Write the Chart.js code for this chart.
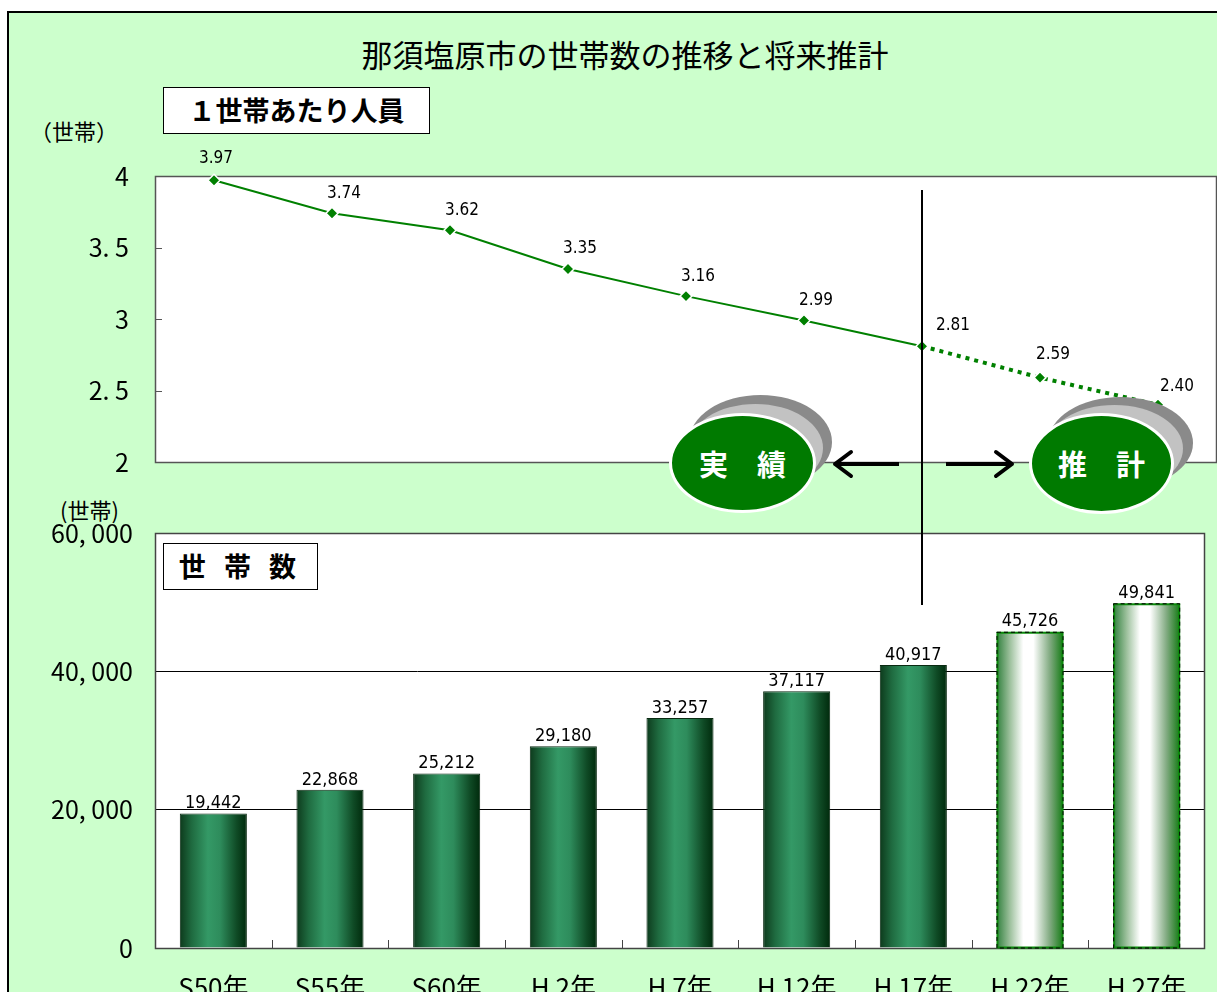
<!DOCTYPE html>
<html lang="ja">
<head>
<meta charset="utf-8">
<title>那須塩原市の世帯数の推移と将来推計</title>
<script src="https://cdn.jsdelivr.net/npm/chart.js@4.4.1/dist/chart.umd.min.js"></script>
<style>
  html, body { margin: 0; padding: 0; background: #fff; overflow: hidden; }
  body { width: 1217px; height: 992px; position: relative; font-family: "Noto Sans CJK JP", sans-serif; }
  #frame { position: absolute; left: 7px; top: 11px; width: 1240px; height: 1010px;
           border: 2px solid #000; background: #ccffcc; }
  canvas { position: absolute; left: 0; }
  #topChart { top: 150px; }
  #barChart { top: 480px; }
  .title { position: absolute; left: 0; width: 1250px; top: 37px; text-align: center;
           font-size: 31px; line-height: 34px; color: #000; }
  .tag { position: absolute; background: #fff; border: 1px solid #000; box-sizing: border-box;
         font-weight: bold; font-size: 27px; text-align: center; color: #000; }
  .unit { position: absolute; font-size: 22px; line-height: 24px; color: #000; }
  .disc { position: absolute; border-radius: 50%; box-sizing: border-box; }
  .disc.dark { background: #8a8a8a; }
  .disc.light { background: #c2c2c2; }
  .disc.face { background: #007a00; border: 3px solid #fff; color: #fff; font-weight: bold;
               font-size: 29px; text-align: center; white-space: nowrap; }
  svg { position: absolute; left: 0; top: 0; }
</style>
</head>
<body>
<div id="frame"></div>
<div class="title">那須塩原市の世帯数の推移と将来推計</div>
<div class="unit" style="left:30px; top:118px;">（世帯）</div>
<div class="unit" style="left:60px; top:497px;">(世帯)</div>

<canvas id="topChart" width="1217" height="330"></canvas>
<canvas id="barChart" width="1217" height="512"></canvas>

<div class="tag" style="left:163px; top:87px; width:267px; height:47px; line-height:44px;">１世帯あたり人員</div>
<div class="tag" style="left:163px; top:543px; width:155px; height:47px; line-height:44px; letter-spacing:6px;">世 帯 数</div>

<!-- 実績 / 推計 の目印 -->
<div class="disc dark"  style="left:689px; top:395px; width:143px; height:94px;"></div>
<div class="disc light" style="left:688px; top:404px; width:135px; height:88px;"></div>
<div class="disc face"  style="left:669px; top:413px; width:147px; height:100px; line-height:94px;">実　績</div>

<div class="disc dark"  style="left:1048px; top:397px; width:145px; height:92px;"></div>
<div class="disc light" style="left:1046px; top:405px; width:137px; height:87px;"></div>
<div class="disc face"  style="left:1029px; top:413px; width:145px; height:101px; line-height:95px;">推　計</div>

<svg width="1217" height="992">
  <line x1="922" y1="190" x2="922" y2="605" stroke="#000" stroke-width="2"/>
  <line x1="899" y1="464" x2="836" y2="464" stroke="#000" stroke-width="4"/>
  <polyline points="851,452 835,464 851,476" fill="none" stroke="#000" stroke-width="4" stroke-linecap="round" stroke-linejoin="round"/>
  <line x1="946" y1="464" x2="1010" y2="464" stroke="#000" stroke-width="4"/>
  <polyline points="996,452 1012,464 996,476" fill="none" stroke="#000" stroke-width="4" stroke-linecap="round" stroke-linejoin="round"/>
</svg>

<script>
// 年次（実績は H17 まで、H22・H27 は推計）
const years = ['S50年', 'S55年', 'S60年', 'H 2年', 'H 7年', 'H 12年', 'H 17年', 'H 22年', 'H 27年'];
const actualCount = 7;

// 1世帯あたり人員
const perHousehold = [3.97, 3.74, 3.62, 3.35, 3.16, 2.99, 2.81, 2.59, 2.40];

// 世帯数
const households = [19442, 22868, 25212, 29180, 33257, 37117, 40917, 45726, 49841];

// 目盛りラベル
const perHouseholdTicks = ['2', '2. 5', '3', '3. 5', '4'];
const householdTicks = ['0', '20, 000', '40, 000', '60, 000'];

const GREEN = '#008000';
const tickFont = { family: '"Liberation Sans Narrow", "Noto Sans CJK JP", sans-serif', size: 25 };
const valueFont = '17px "DejaVu Sans Condensed", "Liberation Sans Narrow", sans-serif';

// 白いプロット枠と内向きの目盛り線
const panelPlugin = {
  id: 'panel',
  beforeDraw(chart) {
    const { ctx, chartArea: a } = chart;
    ctx.save();
    ctx.fillStyle = '#fff';
    ctx.fillRect(a.left, a.top, a.right - a.left, a.bottom - a.top);
    ctx.restore();
  },
  beforeDatasetsDraw(chart, args, opts) {
    const { ctx, chartArea: a } = chart;
    ctx.save();
    ctx.strokeStyle = opts.color || '#444';
    ctx.lineWidth = 1.5;
    ctx.strokeRect(a.left + 0.5, a.top + 0.5, a.right - a.left - 1, a.bottom - a.top);
    ctx.lineWidth = 1;
    if (opts.yTicks) {
      const y = chart.scales.y;
      y.ticks.forEach((t, i) => {
        const py = Math.round(y.getPixelForTick(i)) + 0.5;
        ctx.beginPath();
        ctx.moveTo(a.left, py);
        ctx.lineTo(a.left + 7, py);
        ctx.stroke();
      });
    }
    if (opts.xTicks) {
      const x = chart.scales.x;
      for (let i = 1; i < years.length; i++) {
        const px = Math.round((x.getPixelForTick(i - 1) + x.getPixelForTick(i)) / 2) + 0.5;
        ctx.beginPath();
        ctx.moveTo(px, a.bottom);
        ctx.lineTo(px, a.bottom - 8);
        ctx.stroke();
      }
    }
    ctx.restore();
  }
};

// 折れ線の値ラベル（点からのずらし量）
const lineLabelShift = { 0: [2, -22], 6: [31, -21], 7: [13, -23], 8: [19, -18] };

const lineLabels = {
  id: 'lineLabels',
  afterDatasetsDraw(chart) {
    const { ctx } = chart;
    const pts = chart.getDatasetMeta(0).data;
    ctx.save();
    ctx.font = valueFont;
    ctx.fillStyle = '#000';
    ctx.textAlign = 'center';
    ctx.textBaseline = 'middle';
    pts.forEach((p, i) => {
      const [dx, dy] = lineLabelShift[i] || [12, -20];
      ctx.fillText(perHousehold[i].toFixed(2), p.x + dx, p.y + dy);
    });
    ctx.restore();
  }
};

new Chart(document.getElementById('topChart'), {
  type: 'line',
  data: {
    labels: years,
    datasets: [{
      data: perHousehold,
      borderColor: GREEN,
      borderWidth: 2,
      pointStyle: 'rectRot',
      pointRadius: 6,
      pointBackgroundColor: GREEN,
      pointBorderColor: '#fff',
      pointBorderWidth: 1.5,
      tension: 0,
      clip: false,
      segment: {
        borderDash: c => c.p0DataIndex >= actualCount - 1 ? [4, 5] : undefined,
        borderWidth: c => c.p0DataIndex >= actualCount - 1 ? 4 : 2,
      },
    }],
  },
  options: {
    responsive: false,
    animation: false,
    layout: { autoPadding: false, padding: { top: 26, bottom: 18, left: 0, right: 0 } },
    plugins: {
      legend: { display: false },
      tooltip: { enabled: false },
      panel: { yTicks: true, color: '#555' },
    },
    scales: {
      x: { display: false, offset: true },
      y: {
        min: 2, max: 4,
        ticks: {
          stepSize: 0.5,
          color: '#000',
          font: tickFont,
          padding: 18,
          callback: (v, i) => perHouseholdTicks[i],
        },
        grid: { display: false },
        border: { display: false },
        afterFit: s => { s.width = 155; s.paddingTop = 0; s.paddingBottom = 0; },
      },
    },
  },
  plugins: [panelPlugin, lineLabels],
});

// 棒の横方向グラデーション（円柱風）
const BAR_PCT = 0.575;
function barFill(c) {
  const chart = c.chart;
  const x = chart.scales.x;
  if (!chart.chartArea || !x || c.dataIndex === undefined) return '#2e8b57';
  const cx = x.getPixelForValue(c.dataIndex);
  const w = (x.width / years.length) * BAR_PCT;
  const g = chart.ctx.createLinearGradient(cx - w / 2, 0, cx + w / 2, 0);
  if (c.dataIndex < actualCount) {
    g.addColorStop(0, '#0d3a1c');
    g.addColorStop(0.18, '#1f6b40');
    g.addColorStop(0.42, '#349966');
    g.addColorStop(0.6, '#2e8c5c');
    g.addColorStop(0.85, '#0f4a25');
    g.addColorStop(1, '#002a0c');
  } else {
    g.addColorStop(0, '#2f7f3c');
    g.addColorStop(0.2, '#9cc09c');
    g.addColorStop(0.4, '#ffffff');
    g.addColorStop(0.55, '#ffffff');
    g.addColorStop(0.8, '#7fa97f');
    g.addColorStop(1, '#127a12');
  }
  return g;
}

// 推計分の破線枠と棒の値ラベル
const barLabels = {
  id: 'barLabels',
  afterDatasetsDraw(chart) {
    const { ctx } = chart;
    const bars = chart.getDatasetMeta(0).data;
    ctx.save();
    bars.forEach((b, i) => {
      if (i < actualCount) return;
      const l = b.x - b.width / 2, t = b.y, h = b.base - b.y;
      ctx.strokeStyle = '#0a8a0a';
      ctx.lineWidth = 2;
      ctx.strokeRect(l + 1, t + 1, b.width - 2, h - 1);
      ctx.strokeStyle = '#000';
      ctx.lineWidth = 1;
      ctx.setLineDash([4, 3]);
      ctx.strokeRect(l + 0.5, t + 0.5, b.width - 1, h);
      ctx.setLineDash([]);
    });
    ctx.font = '18px "DejaVu Sans Condensed", "Liberation Sans Narrow", sans-serif';
    ctx.fillStyle = '#000';
    ctx.textAlign = 'center';
    ctx.textBaseline = 'bottom';
    bars.forEach((b, i) => {
      ctx.fillText(households[i].toLocaleString('en-US'), b.x, b.y - 1);
    });
    ctx.restore();
  }
};

new Chart(document.getElementById('barChart'), {
  type: 'bar',
  data: {
    labels: years,
    datasets: [{
      data: households,
      backgroundColor: barFill,
      borderColor: c => c.dataIndex < actualCount ? '#0a2a12' : 'rgba(0,0,0,0)',
      borderWidth: 1,
      categoryPercentage: 1,
      barPercentage: BAR_PCT,
    }],
  },
  options: {
    responsive: false,
    animation: false,
    layout: { autoPadding: false, padding: { top: 53, bottom: 0, left: 0, right: 12 } },
    plugins: {
      legend: { display: false },
      tooltip: { enabled: false },
      panel: { xTicks: true, color: '#444' },
    },
    scales: {
      x: {
        grid: { display: false },
        border: { display: false },
        ticks: { color: '#000', font: { ...tickFont, size: 26 }, padding: 16, maxRotation: 0 },
        afterFit: s => { s.height = 44; },
      },
      y: {
        min: 0, max: 60000,
        ticks: {
          stepSize: 20000,
          color: '#000',
          font: tickFont,
          padding: 22,
          callback: (v, i) => householdTicks[i],
        },
        grid: { color: '#000', lineWidth: 1, drawTicks: false },
        border: { display: false },
        afterFit: s => { s.width = 155; },
      },
    },
  },
  plugins: [panelPlugin, barLabels],
});
</script>
</body>
</html>
